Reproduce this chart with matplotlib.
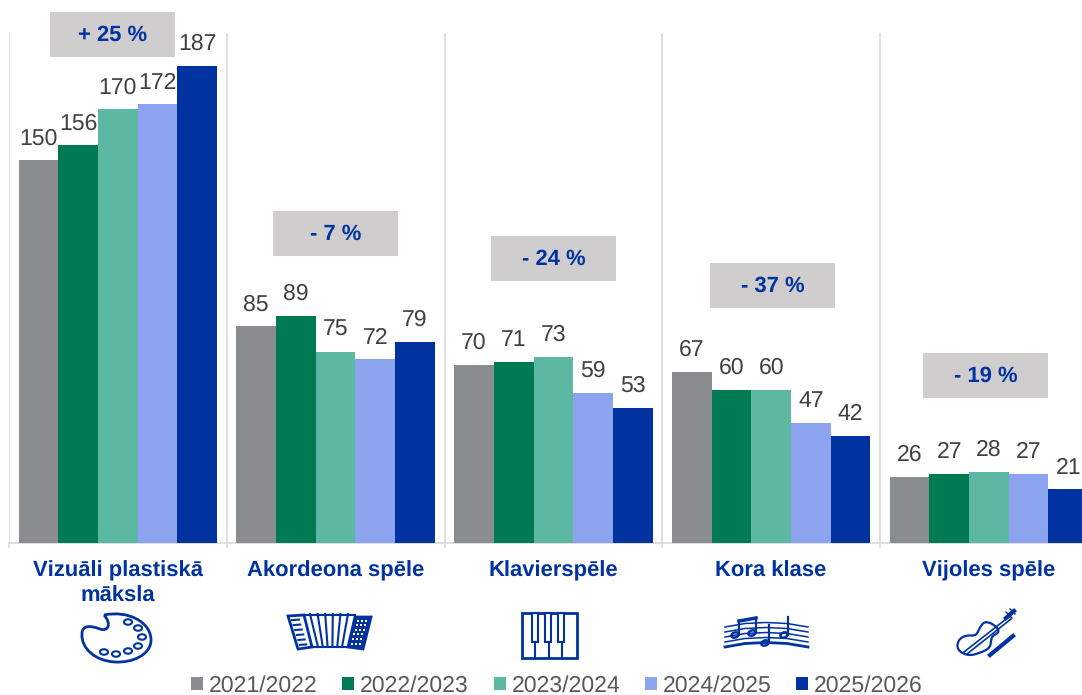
import matplotlib
matplotlib.use('agg')
from matplotlib import pyplot as plt
from matplotlib.patches import Ellipse, PathPatch, Polygon, Rectangle
from matplotlib.path import Path
import numpy as np

plt.rcParams['font.family'] = ['Liberation Sans', 'DejaVu Sans']
plt.rcParams['text.hinting'] = 'no_hinting'
plt.rcParams['text.hinting_factor'] = 1

categories = ['Vizuāli plastiskā\nmāksla', 'Akordeona spēle', 'Klavierspēle', 'Kora klase', 'Vijoles spēle']
years = ['2021/2022', '2022/2023', '2023/2024', '2024/2025', '2025/2026']
v2122 = [150, 85, 70, 67, 26]
v2223 = [156, 89, 71, 60, 27]
v2324 = [170, 75, 73, 60, 28]
v2425 = [172, 72, 59, 47, 27]
v2526 = [187, 79, 53, 42, 21]
changes = ['+ 25 %', '- 7 %', '- 24 %', '- 37 %', '- 19 %']
series = [v2122, v2223, v2324, v2425, v2526]

colors = ['#8A8D8F', '#007A53', '#5CB8A2', '#8CA4F0', '#0033A0']
navy = '#0033A0'
gridc = '#D9D9D9'

W, H = 1082, 695
catw = 217.75
barw = 39.7 / catw

fig = plt.figure(figsize=(W / 100, H / 100), dpi=100)
ax = fig.add_axes([9 / W, (H - 543) / H, (W - 9) / W, 510 / H])

xpos = np.arange(len(categories)) + 0.5
handles = []
for j, vals in enumerate(series):
    bars = ax.bar(xpos + (j - 2) * barw, vals, barw, color=colors[j], label=years[j], zorder=3)
    ax.bar_label(bars, labels=[str(v) for v in vals], padding=8, fontsize=16.5, color='#404040', zorder=4)
    handles.append(bars)

ax.set_xlim(0, (W - 9) / catw)
ax.set_ylim(0, 200)
ax.set_yticks([])
for s in ['top', 'left', 'right']:
    ax.spines[s].set_visible(False)
ax.spines['bottom'].set_color(gridc)
ax.spines['bottom'].set_linewidth(1.2)

# category borders are the major ticks, names sit on the minor ones
ax.set_xticks(np.arange(len(categories)))
ax.set_xticklabels([])
ax.tick_params(axis='x', which='major', length=3.6, width=1.2, color=gridc)
ax.grid(True, axis='x', which='major', color=gridc, linewidth=1.2, zorder=0)
ax.set_xticks(xpos, minor=True)
ax.set_xticklabels(categories, minor=True, fontsize=16.15, fontweight='bold', color=navy, linespacing=1.32)
ax.tick_params(axis='x', which='minor', length=0, pad=12.5)

fig.legend(handles=handles, labels=years, loc='lower center', bbox_to_anchor=(557 / W, -0.002), ncol=5, frameon=False,
           fontsize=16.4, labelcolor='#595959', handlelength=0.53, handleheight=0.53, handletextpad=0.26,
           columnspacing=1.08, borderpad=0, borderaxespad=0)

# overlay in pixel coordinates for the grey badges and the icons
ov = fig.add_axes([0, 0, 1, 1], zorder=5)
ov.set_xlim(0, W)
ov.set_ylim(H, 0)
ov.axis('off')

badge_left = [50, 273, 491, 710, 923]
badge_top = [12, 211, 236, 263, 353]
for bx, by, txt in zip(badge_left, badge_top, changes):
    ov.add_patch(Rectangle((bx, by), 125, 45, fc='#CFCDCE', ec='none'))
    ov.text(bx + 62.5, by + 23, txt, ha='center', va='center', fontsize=16.15, fontweight='bold', color=navy)

M, C, C3 = Path.MOVETO, Path.CURVE4, Path.CURVE3


def blob(pts, lw):
    # closed quadratic spline through the midpoints of pts
    pts = np.array(pts, dtype=float)
    mids = (pts + np.roll(pts, -1, axis=0)) / 2
    verts = [mids[-1]]
    codes = [M]
    for p, m in zip(pts, mids):
        verts += [p, m]
        codes += [C3, C3]
    ov.add_patch(PathPatch(Path(verts, codes), fc='none', ec=navy, lw=lw))


# palette
verts = [(104, 615), (128, 610), (151, 622), (151, 640), (151, 655), (132, 663), (115, 662),
         (95, 661), (81, 648), (82, 634), (82, 624), (92, 626), (100, 629), (108, 632), (112, 624), (104, 615)]
ov.add_patch(PathPatch(Path(verts, [M] + [C] * 15), fc='none', ec=navy, lw=2))
holes = [(128, 622), (138, 628), (142, 637), (138, 646), (128, 651), (116, 654), (104, 652)]
for hx, hy in holes:
    ov.add_patch(Ellipse((hx, hy), 8, 5.5, fc='none', ec=navy, lw=1.5))

# accordion
ov.add_patch(Polygon([(288, 616), (304, 615), (312, 647), (298, 649)], fc='white', ec=navy, lw=2))
ov.add_patch(Polygon([(355, 617), (371, 617), (363, 649), (348, 647)], fc=navy, ec=navy, lw=2))
for t in np.linspace(0.1, 0.9, 6):
    ov.plot([291 + 10 * t, 298 + 9 * t], [617 + 31 * t, 616.5 + 31 * t], color=navy, lw=1.5)
tops = np.linspace(310, 348, 6)
bots = np.linspace(318, 342, 6)
for tx, bx in zip(tops, bots):
    ov.plot([tx, bx], [614, 647], color=navy, lw=1.5)
ov.plot([304, 355], [615, 615], color=navy, lw=1.5)
ov.plot([312, 348], [647, 647], color=navy, lw=1.5)
for a in range(3):
    for b in range(6):
        ov.plot(358 + a * 4 - b * 1.2, 620.5 + b * 4.6, 's', color='white', ms=1.6, mew=0)

# piano
ov.add_patch(Rectangle((522, 613), 55, 45, fc='none', ec=navy, lw=2))
for px in [535, 549, 562]:
    ov.plot([px, px], [642, 658], color=navy, lw=1.5)
for px in [532, 545, 558]:
    ov.add_patch(Rectangle((px, 613), 6, 29, fc='white', ec=navy, lw=1.5))

# staff with notes
xs = np.array([725, 745, 766, 787, 808])
for k in range(5):
    y0 = 627 + k * 5.0
    ov.plot(xs, [y0, y0 - 3.5, y0 - 4.5, y0 - 3.5, y0], color=navy, lw=2 if k == 4 else 1.1)
for nx, ny, top in [(735, 635, 621), (752, 633, 618), (765, 643, 625), (784, 635, 617)]:
    ov.add_patch(Ellipse((nx, ny), 7.5, 5, angle=-20, fc='none', ec=navy, lw=1.8))
    ov.plot([nx + 4, nx + 4], [ny, top], color=navy, lw=1.6)
ov.plot([739, 756], [621, 618], color=navy, lw=2.5)

# violin
blob([(980, 627), (985, 621), (995, 625), (1000, 632), (992, 636), (991, 641), (990, 648), (980, 653),
      (968, 656), (957, 650), (958, 640), (966, 635), (975, 636), (978, 632)], 1.6)
ov.plot([964, 1010], [652, 616], color=navy, lw=1.2)
ov.plot([967, 1011], [654, 619], color=navy, lw=1.2)
ov.plot([1006, 1014], [618, 611], color=navy, lw=3)
ov.plot([1006, 1012], [612, 618], color=navy, lw=1)
ov.plot([1010, 1015], [609, 614], color=navy, lw=1)
ov.plot([990, 1013], [655, 636], color=navy, lw=3)

plt.savefig('out.png', dpi=100)
